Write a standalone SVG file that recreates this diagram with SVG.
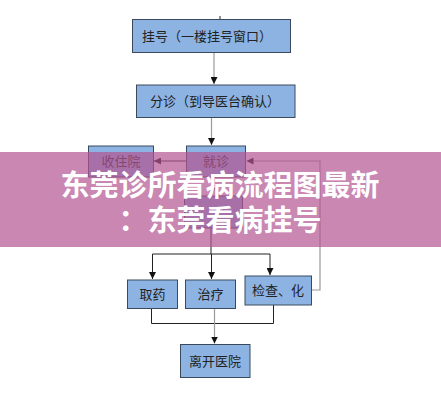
<svg xmlns="http://www.w3.org/2000/svg" width="441" height="400" viewBox="0 0 441 400">
<defs>
<style>
.box{fill:#8DB3E2;stroke:#3A4A5C;stroke-width:1}
.t{font-family:"Noto Sans CJK SC","Noto Sans",sans-serif;font-size:13px;fill:#222;text-anchor:middle}
.k{fill:none;stroke:#222;stroke-width:1}
.g{fill:none;stroke:#9A9A9A;stroke-width:1.2}
.title{font-family:"Noto Sans CJK SC","Noto Sans",sans-serif;font-size:29px;font-weight:bold;fill:#fff;text-anchor:middle}
</style>
<marker id="a" viewBox="0 0 8 8" refX="8" refY="4" markerWidth="7" markerHeight="7" markerUnits="userSpaceOnUse" orient="auto">
<path d="M0,0 L8,4 L0,8 z" fill="#111"/>
</marker>
</defs>
<rect width="441" height="400" fill="#fff"/>
<g id="connectors">
<line class="k" x1="220" y1="16" x2="220" y2="28"/>
<line class="g" x1="214" y1="52" x2="214" y2="84" marker-end="url(#a)"/>
<line class="g" x1="211.5" y1="117" x2="211.5" y2="145" marker-end="url(#a)"/>
<line class="k" x1="186.5" y1="161" x2="154" y2="161" marker-end="url(#a)"/>
<polyline class="g" points="312,290 320,290 320,161 246.5,161" marker-end="url(#a)"/>
<line class="k" x1="212" y1="177" x2="212" y2="195" marker-end="url(#a)"/>
<line class="k" x1="211" y1="228" x2="211" y2="254"/>
<line class="k" x1="152.5" y1="254" x2="270" y2="254"/>
<line class="k" x1="152.5" y1="254" x2="152.5" y2="279" marker-end="url(#a)"/>
<line class="k" x1="211.5" y1="254" x2="211.5" y2="279" marker-end="url(#a)"/>
<line class="k" x1="270" y1="254" x2="270" y2="275" marker-end="url(#a)"/>
<polyline class="k" points="151.5,308 151.5,323.5 273.5,323.5 273.5,305"/>
<line class="g" x1="214.5" y1="308" x2="214.5" y2="343.5" marker-end="url(#a)"/>
</g>
<g id="n1"><rect class="box" x="132.5" y="19.5" width="158" height="33"/><text class="t" x="207" y="41">挂号（一楼挂号窗口）</text></g>
<g id="n2"><rect class="box" x="136.5" y="85" width="158.5" height="32.5"/><text class="t" x="215" y="106">分诊（到导医台确认）</text></g>
<g id="n3"><rect class="box" x="88.5" y="146" width="65" height="31"/><text class="t" x="121" y="166">收住院</text></g>
<g id="n4"><rect class="box" x="186.5" y="146" width="59" height="31"/><text class="t" x="216" y="166">就诊</text></g>
<g id="n5"><rect class="box" x="184.5" y="196" width="58" height="32"/></g>
<g id="n6"><rect class="box" x="127.5" y="280" width="50" height="28.5"/><text class="t" x="152.5" y="299">取药</text></g>
<g id="n7"><rect class="box" x="185.5" y="280" width="50" height="28.5"/><text class="t" x="210.5" y="299">治疗</text></g>
<g id="n8"><rect class="box" x="245" y="276" width="66.5" height="29"/><text class="t" x="278" y="295">检查、化</text></g>
<g id="n9"><rect class="box" x="180.5" y="344.5" width="69.5" height="33"/><text class="t" x="215" y="366">离开医院</text></g>
<g id="banner">
<rect x="0" y="152" width="441" height="95" fill="#B25492" fill-opacity="0.7"/>
<text class="title" x="220" y="196">东莞诊所看病流程图最新</text>
<text class="title" x="220" y="231">：东莞看病挂号</text>
</g>
</svg>
